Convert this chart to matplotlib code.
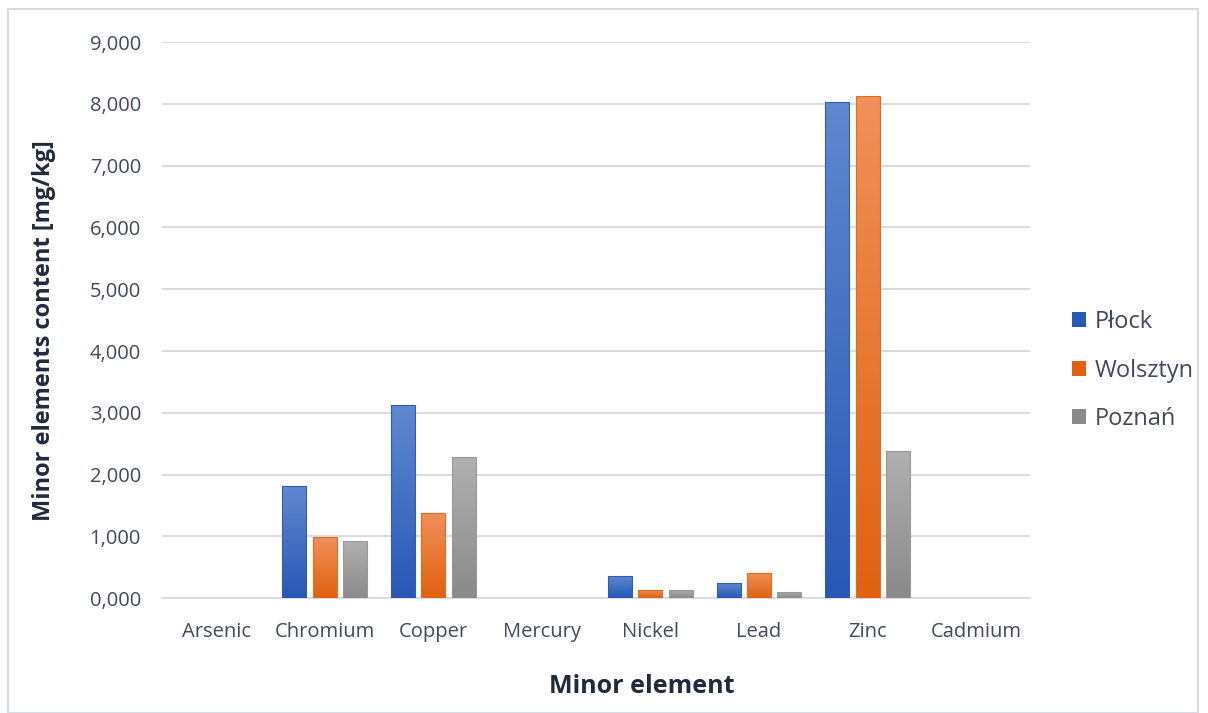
import numpy as np
import matplotlib.pyplot as plt
from matplotlib.patches import Rectangle
from matplotlib.colors import LinearSegmentedColormap
from matplotlib.ticker import FuncFormatter

elements = ["Arsenic", "Chromium", "Copper", "Mercury", "Nickel", "Lead", "Zinc", "Cadmium"]
series = ["Płock", "Wolsztyn", "Poznań"]
plock = [0.004, 1.81, 3.12, 0.002, 0.36, 0.24, 8.03, 0.003]
wolsztyn = [0.003, 0.99, 1.38, 0.002, 0.13, 0.40, 8.13, 0.002]
poznan = [0.003, 0.92, 2.28, 0.002, 0.13, 0.10, 2.38, 0.002]

# top / bottom shade for each series gradient
shades = [("#6088d0", "#2858b6"), ("#f19059", "#e06210"), ("#b0b0b0", "#8a8a8a")]
edges = ["#2f5cb4", "#e36c1e", "#999999"]

plt.rcParams['font.family'] = ['Open Sans', 'DejaVu Sans']
txt = "#404a5a"

fig = plt.figure(figsize=(12.08, 7.13), dpi=100)
ax = fig.add_axes([0.134, 0.161, 0.719, 0.780])

x = np.arange(len(elements))
w = 0.22
step = 0.28
handles = []
for i, (vals, name) in enumerate(zip([plock, wolsztyn, poznan], series)):
    bars = ax.bar(x + (i - 1) * step, vals, w, color=shades[i][1], edgecolor=edges[i],
                  linewidth=0, label=name, zorder=3)
    cmap = LinearSegmentedColormap.from_list("g%d" % i, [shades[i][1], shades[i][0]])
    for b in bars:
        x0, y0 = b.get_x(), b.get_y()
        bw, bh = b.get_width(), b.get_height()
        if bh <= 0.01:
            continue
        im = ax.imshow(np.linspace(0, 1, 64).reshape(-1, 1), cmap=cmap, origin="lower",
                       extent=[x0, x0 + bw, y0, y0 + bh], aspect="auto", zorder=3.5)
        im.set_clip_path(b)
        edge = Rectangle((x0, y0), bw, bh, fill=False, edgecolor=edges[i],
                         linewidth=0.8, zorder=4)
        ax.add_patch(edge)
    handles.append(bars)

ax.set_xlim(-0.5, len(elements) - 0.5)
ax.set_ylim(0, 9)
ax.set_yticks(np.arange(0, 10, 1))
ax.yaxis.set_major_formatter(FuncFormatter(lambda v, p: ("%.3f" % v).replace(".", ",")))
ax.set_xticks(x)
ax.set_xticklabels(elements)
ax.grid(axis="y", color="#d9dce1", linewidth=1.5, zorder=0)
ax.set_axisbelow(True)
for s in ["top", "right", "left"]:
    ax.spines[s].set_visible(False)
ax.spines["bottom"].set_color("#d9dce1")
ax.spines["bottom"].set_linewidth(1.5)
ax.tick_params(length=0, labelsize=14.5, labelcolor=txt)
ax.tick_params(axis="y", pad=15)
ax.tick_params(axis="x", pad=17)

ax.set_xlabel("Minor element", fontsize=18, fontweight="bold", color="#1f2b3c")
ax.xaxis.set_label_coords(0.553, -0.136)
ax.set_ylabel("Minor elements content [mg/kg]", fontsize=17, fontweight="bold",
              color="#1f2b3c")
ax.yaxis.set_label_coords(-0.122, 0.482)

fig.legend(handles=handles, labels=series, loc="center left", bbox_to_anchor=(0.870, 0.480),
           frameon=False, fontsize=17, labelcolor=txt, handlelength=0.6, handleheight=0.6,
           handletextpad=0.35, labelspacing=1.04)

fig.patches.append(Rectangle((0.007, 0.0), 0.985, 0.988, transform=fig.transFigure,
                             fill=False, edgecolor="#d9dce1", linewidth=1.5))

fig.savefig("out.png", dpi=100)
